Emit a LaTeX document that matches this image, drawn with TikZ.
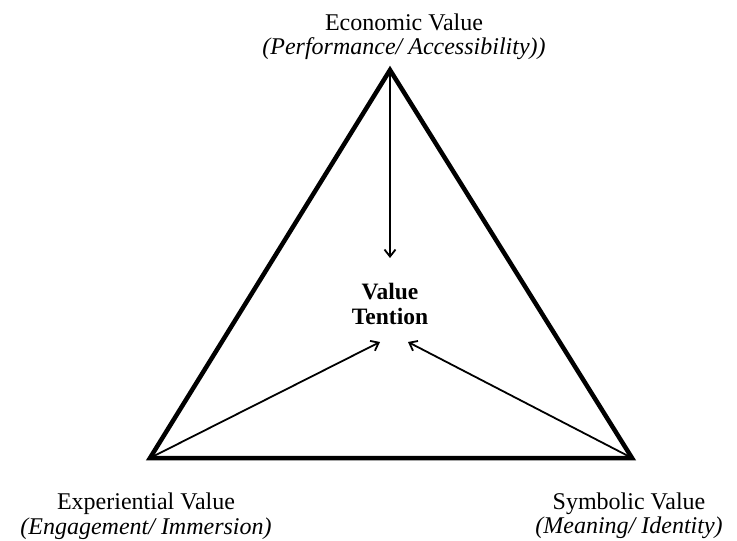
\documentclass[tikz,border=0pt]{standalone}
\usepackage{fontspec}
\setmainfont{Liberation Serif}
\usetikzlibrary{arrows.meta}
\begin{document}
\begin{tikzpicture}[x=1pt,y=-1pt,
  edge/.style={line width=4.5pt,line join=miter},
  arr/.style={line width=1.8pt,-{Straight Barb[length=7pt,width=11pt,line width=1.8pt]}},
  lbl/.style={align=center,font=\fontsize{24}{24.5}\selectfont,inner sep=0pt}]
\useasboundingbox (0,0) rectangle (737,541);
\coordinate (E) at (390,70);
\coordinate (X) at (150,458);
\coordinate (S) at (632,458);
\coordinate (t1) at (390,258);
\coordinate (t2) at (380,342);
\coordinate (t3) at (408,342);
\draw[edge] (E) -- (X) -- (S) -- cycle;
\node[lbl,font=\fontsize{23.5}{25}\selectfont\bfseries] (V) at (390,304) {Value\\Tention};
\draw[arr] (E) -- (t1);
\draw[arr] (X) -- (t2);
\draw[arr] (S) -- (t3);
\node[lbl] (el) at (404,37) {Economic Value\\\textit{(Performance/ Accessibility))}};
\node[lbl] (xl) at (146,516) {Experiential Value\\\textit{(Engagement/ Immersion)}};
\node[lbl] (sl) at (629,516) {Symbolic Value\\\textit{(Meaning/ Identity)}};
\end{tikzpicture}
\end{document}
